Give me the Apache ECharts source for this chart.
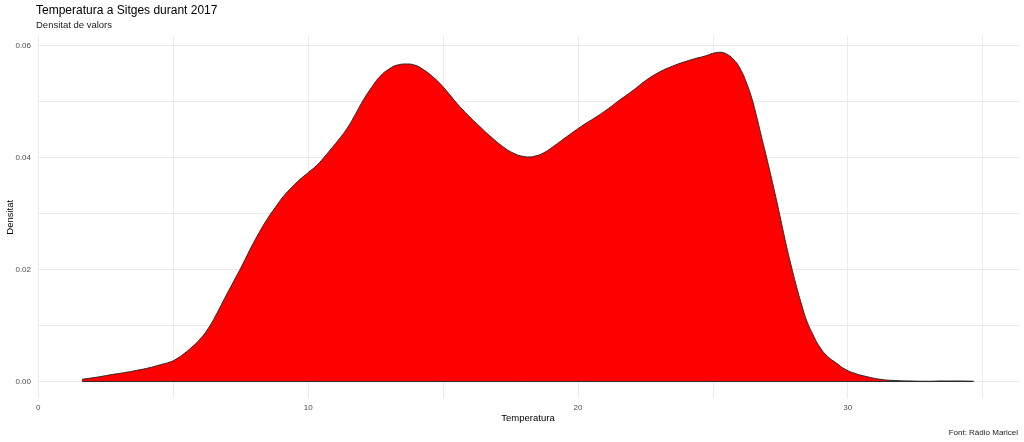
<!DOCTYPE html>
<html>
<head>
<meta charset="utf-8">
<script src="https://cdn.jsdelivr.net/npm/echarts@6/dist/echarts.min.js"></script>
<style>
html,body{margin:0;padding:0;background:#fff;}
#chart{width:1024px;height:442px;}
</style>
</head>
<body>
<div id="chart"></div>
<script>
// Temperature (°C) sample points along the density curve
const temps = [1.62,2.2,2.67,3.2,3.65,4.15,4.52,4.89,5.14,5.38,5.75,6.0,6.3,6.62,6.9,7.23,7.55,7.85,8.15,8.47,8.8,9.09,9.4,9.7,10.0,10.32,10.55,10.81,11.1,11.43,11.75,12.05,12.35,12.67,13.0,13.3,13.65,13.95,14.27,14.6,14.89,15.2,15.51,15.9,16.37,16.8,17.23,17.6,17.97,18.2,18.45,18.72,19.1,19.58,20.2,20.6,21.06,21.5,22.05,22.5,23.04,23.5,23.9,24.3,24.77,25.0,25.26,25.5,25.75,26.0,26.25,26.45,26.62,26.8,26.99,27.18,27.36,27.55,27.73,27.92,28.1,28.3,28.47,28.7,28.96,29.25,29.58,29.9,30.3,30.69,31.2,31.68,32.3,33.0,33.5,34.0,34.67];
// Density values at those temperatures
const density = [0.0004,0.0008,0.0012,0.0016,0.0020,0.0025,0.0030,0.0035,0.0041,0.0049,0.0064,0.0076,0.0095,0.0122,0.0148,0.0178,0.0207,0.0236,0.0263,0.0289,0.0312,0.0331,0.0347,0.0361,0.0373,0.0386,0.0398,0.0413,0.0430,0.0451,0.0477,0.0503,0.0525,0.0545,0.0558,0.0565,0.0567,0.0565,0.0557,0.0545,0.0532,0.0515,0.0497,0.0477,0.0455,0.0436,0.0419,0.0408,0.0402,0.0401,0.0403,0.0408,0.0420,0.0437,0.0458,0.0470,0.0485,0.0501,0.0520,0.0537,0.0553,0.0563,0.0570,0.0576,0.0582,0.0586,0.0588,0.0585,0.0576,0.0560,0.0533,0.0505,0.0474,0.0438,0.0401,0.0362,0.0324,0.0282,0.0242,0.0204,0.0170,0.0136,0.0110,0.0085,0.0062,0.0045,0.0033,0.0022,0.0014,0.0009,0.0004,0.0002,0.0001,0.00005,0.0001,0.0001,0.00005];
// Axis ticks
const xLabels = [0,10,20,30];
const xGrid = [0,5,10,15,20,25,30,35];
const yLabels = [0,0.02,0.04,0.06];
const yGrid = [0,0.01,0.02,0.03,0.04,0.05,0.06];

const titleText = 'Temperatura a Sitges durant 2017';
const subtitleText = 'Densitat de valors';
const captionText = 'Font: Ràdio Maricel';
const xName = 'Temperatura';
const yName = 'Densitat';

const FONT = '"Liberation Sans", Arial, sans-serif';
const curve = temps.map((t, i) => [t, density[i]]);
const baseline = [[temps[0], 0], [temps[temps.length - 1], 0]];

const chart = echarts.init(document.getElementById('chart'), null, {renderer: 'canvas'});
chart.setOption({
  backgroundColor: '#fff',
  animation: false,
  title: [
    {text: titleText, left: 36, top: 5, padding: 0, textStyle: {fontFamily: FONT, fontSize: 12, fontWeight: 'normal', color: '#000'}},
    {text: subtitleText, left: 36, top: 20, padding: 0, textStyle: {fontFamily: FONT, fontSize: 9.5, fontWeight: 'normal', color: '#1a1a1a'}},
    {text: captionText, right: 6, bottom: 5, padding: 0, textStyle: {fontFamily: FONT, fontSize: 8, fontWeight: 'normal', color: '#1a1a1a'}}
  ],
  grid: {left: 37, right: 5, top: 36, bottom: 43.5, outerBoundsMode: 'none', containLabel: false},
  xAxis: {
    type: 'value',
    min: -0.05, max: 36.35,
    name: xName, nameLocation: 'middle', nameGap: 15, nameMoveOverlap: false,
    nameTextStyle: {fontFamily: FONT, fontSize: 9.5, color: '#000', verticalAlign: 'top'},
    axisLine: {show: false},
    axisTick: {show: false, customValues: xGrid},
    axisLabel: {customValues: xLabels, margin: 5, fontFamily: FONT, fontSize: 8, color: '#4d4d4d'},
    splitLine: {show: true, lineStyle: {color: '#ebebeb', width: 1}}
  },
  yAxis: {
    type: 'value',
    min: -0.00303, max: 0.0617,
    name: yName, nameLocation: 'middle', nameGap: 22, nameMoveOverlap: false,
    nameTextStyle: {fontFamily: FONT, fontSize: 9.5, color: '#000'},
    axisLine: {show: false},
    axisTick: {show: false, customValues: yGrid},
    axisLabel: {customValues: yLabels, margin: 6, fontFamily: FONT, fontSize: 8, color: '#4d4d4d',
      formatter: v => v.toFixed(2)},
    splitLine: {show: true, lineStyle: {color: '#ebebeb', width: 1}}
  },
  series: [
    {
      type: 'line',
      data: curve,
      smooth: 0.5,
      showSymbol: false,
      lineStyle: {color: '#2a2a2a', width: 1},
      areaStyle: {color: '#ff0000', opacity: 1, origin: 0},
      z: 3
    },
    {
      type: 'line',
      data: baseline,
      showSymbol: false,
      lineStyle: {color: '#2a2a2a', width: 1},
      z: 4
    }
  ]
});
</script>
</body>
</html>
